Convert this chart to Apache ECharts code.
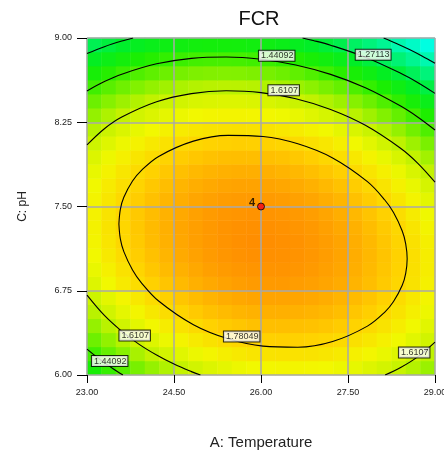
<!DOCTYPE html>
<html><head><meta charset="utf-8">
<script src="https://cdn.jsdelivr.net/npm/echarts@6/dist/echarts.min.js"></script>
<style>html,body{margin:0;padding:0;background:#fff}#chart{width:444px;height:450px}</style>
</head><body><div id="chart"></div>
<script>
const chartTitle = 'FCR';
const xAxisName = 'A: Temperature';
const yAxisName = 'C: pH';
const xTickLabels = ['23.00', '24.50', '26.00', '27.50', '29.00'];
const yTickLabels = ['6.00', '6.75', '7.50', '8.25', '9.00'];

// heatmap cell centres (A: Temperature, C: pH)
const temperatureCells = [23.125,23.375,23.625,23.875,24.125,24.375,24.625,24.875,25.125,25.375,25.625,25.875,26.125,26.375,26.625,26.875,27.125,27.375,27.625,27.875,28.125,28.375,28.625,28.875];
const phCells = [6.0625,6.1875,6.3125,6.4375,6.5625,6.6875,6.8125,6.9375,7.0625,7.1875,7.3125,7.4375,7.5625,7.6875,7.8125,7.9375,8.0625,8.1875,8.3125,8.4375,8.5625,8.6875,8.8125,8.9375];

// FCR values, one row per pH cell (bottom to top)
const fcrGrid = [
[1.385,1.431,1.473,1.512,1.548,1.580,1.608,1.633,1.655,1.672,1.687,1.698,1.705,1.709,1.709,1.706,1.699,1.689,1.675,1.658,1.637,1.613,1.585,1.554],
[1.446,1.491,1.532,1.571,1.605,1.637,1.664,1.688,1.709,1.726,1.740,1.750,1.756,1.759,1.759,1.755,1.747,1.736,1.722,1.704,1.682,1.657,1.629,1.597],
[1.500,1.544,1.585,1.623,1.657,1.687,1.714,1.737,1.757,1.774,1.786,1.796,1.802,1.804,1.803,1.798,1.790,1.778,1.763,1.744,1.722,1.696,1.666,1.634],
[1.548,1.592,1.632,1.669,1.702,1.732,1.758,1.780,1.800,1.815,1.827,1.836,1.841,1.842,1.840,1.835,1.826,1.813,1.797,1.778,1.755,1.728,1.698,1.665],
[1.591,1.634,1.673,1.709,1.741,1.770,1.796,1.817,1.836,1.851,1.862,1.870,1.874,1.875,1.872,1.866,1.856,1.843,1.826,1.806,1.782,1.755,1.724,1.689],
[1.627,1.669,1.708,1.743,1.775,1.803,1.827,1.848,1.866,1.880,1.891,1.898,1.901,1.901,1.898,1.891,1.880,1.866,1.849,1.828,1.803,1.775,1.743,1.708],
[1.657,1.698,1.736,1.771,1.802,1.829,1.853,1.873,1.890,1.903,1.913,1.920,1.922,1.922,1.917,1.910,1.898,1.884,1.865,1.843,1.818,1.789,1.757,1.721],
[1.681,1.722,1.759,1.793,1.823,1.849,1.872,1.892,1.908,1.921,1.930,1.935,1.937,1.936,1.931,1.922,1.910,1.895,1.876,1.853,1.827,1.797,1.764,1.728],
[1.699,1.739,1.775,1.808,1.838,1.864,1.886,1.905,1.920,1.932,1.940,1.945,1.946,1.944,1.938,1.929,1.916,1.900,1.880,1.857,1.830,1.800,1.766,1.728],
[1.711,1.750,1.786,1.818,1.847,1.872,1.893,1.911,1.926,1.937,1.945,1.949,1.949,1.946,1.940,1.930,1.916,1.899,1.878,1.854,1.827,1.796,1.761,1.723],
[1.717,1.755,1.790,1.822,1.850,1.874,1.895,1.912,1.926,1.936,1.943,1.946,1.946,1.942,1.935,1.924,1.910,1.892,1.871,1.846,1.818,1.786,1.750,1.711],
[1.717,1.755,1.789,1.819,1.846,1.870,1.890,1.907,1.920,1.929,1.935,1.938,1.937,1.932,1.924,1.913,1.898,1.879,1.857,1.831,1.802,1.770,1.733,1.694],
[1.711,1.748,1.781,1.811,1.837,1.860,1.879,1.895,1.907,1.916,1.921,1.923,1.921,1.916,1.907,1.895,1.879,1.860,1.837,1.811,1.781,1.748,1.711,1.670],
[1.698,1.735,1.767,1.796,1.822,1.844,1.862,1.878,1.889,1.897,1.902,1.903,1.900,1.894,1.885,1.871,1.855,1.835,1.811,1.784,1.753,1.719,1.682,1.641],
[1.680,1.715,1.747,1.776,1.800,1.822,1.840,1.854,1.865,1.872,1.876,1.876,1.873,1.866,1.856,1.842,1.824,1.804,1.779,1.751,1.720,1.685,1.647,1.605],
[1.656,1.690,1.721,1.749,1.773,1.794,1.811,1.824,1.834,1.841,1.844,1.843,1.839,1.832,1.821,1.806,1.788,1.766,1.741,1.713,1.680,1.645,1.606,1.563],
[1.625,1.659,1.689,1.716,1.740,1.759,1.776,1.788,1.798,1.803,1.806,1.804,1.800,1.791,1.780,1.764,1.745,1.723,1.697,1.668,1.635,1.598,1.559,1.515],
[1.589,1.622,1.651,1.677,1.700,1.719,1.735,1.747,1.755,1.760,1.762,1.760,1.754,1.745,1.732,1.716,1.697,1.674,1.647,1.617,1.583,1.546,1.505,1.461],
[1.546,1.578,1.607,1.633,1.654,1.673,1.687,1.699,1.707,1.711,1.711,1.709,1.702,1.693,1.679,1.662,1.642,1.618,1.591,1.560,1.525,1.488,1.446,1.401],
[1.497,1.529,1.557,1.582,1.603,1.620,1.634,1.645,1.652,1.655,1.655,1.652,1.645,1.634,1.620,1.602,1.581,1.557,1.529,1.497,1.462,1.423,1.381,1.335],
[1.443,1.474,1.501,1.525,1.545,1.562,1.575,1.585,1.591,1.594,1.593,1.589,1.581,1.570,1.555,1.536,1.514,1.489,1.460,1.428,1.392,1.352,1.309,1.263],
[1.382,1.412,1.439,1.462,1.481,1.497,1.510,1.519,1.524,1.526,1.525,1.520,1.511,1.499,1.483,1.464,1.442,1.415,1.386,1.353,1.316,1.276,1.232,1.185],
[1.315,1.344,1.370,1.393,1.411,1.427,1.438,1.447,1.451,1.453,1.450,1.444,1.435,1.422,1.406,1.386,1.363,1.336,1.305,1.271,1.234,1.193,1.149,1.101],
[1.242,1.271,1.296,1.317,1.335,1.350,1.361,1.368,1.372,1.373,1.370,1.363,1.353,1.340,1.322,1.302,1.278,1.250,1.219,1.184,1.146,1.104,1.059,1.010]
];

// contour lines: [Temperature, pH]
const contour1p78049 = [[23.550,7.345],[23.575,7.475],[23.635,7.582],[23.785,7.727],[23.935,7.820],[24.235,7.946],[24.835,8.082],[25.435,8.133],[26.035,8.123],[26.635,8.058],[27.235,7.932],[27.835,7.721],[28.135,7.558],[28.285,7.446],[28.435,7.282],[28.495,7.168],[28.520,7.035],[28.495,6.905],[28.435,6.799],[28.285,6.654],[28.135,6.560],[27.835,6.435],[27.235,6.298],[26.635,6.247],[26.035,6.257],[25.435,6.322],[24.835,6.448],[24.235,6.659],[23.935,6.823],[23.785,6.935],[23.635,7.098],[23.575,7.212],[23.550,7.345]];
const contour1p6107Upper = [[23.0,8.048],[23.3,8.192],[23.6,8.296],[24.2,8.432],[24.8,8.505],[25.4,8.530],[26.0,8.514],[26.6,8.459],[27.2,8.364],[27.8,8.223],[28.4,8.021],[28.7,7.887],[29.0,7.717]];
const contour1p6107LowerLeft = [[23.0,6.711],[23.3,6.530],[23.6,6.389],[23.9,6.273],[24.2,6.178],[24.5,6.097],[24.8,6.030],[24.956,6.0]];
const contour1p6107LowerRight = [[28.140,6.0],[28.4,6.064],[28.7,6.161],[29.0,6.293]];
const contour1p44092Upper = [[23.0,8.529],[23.3,8.612],[23.6,8.678],[24.2,8.770],[24.8,8.819],[25.4,8.831],[26.0,8.811],[26.6,8.760],[27.2,8.676],[27.8,8.557],[28.4,8.396],[28.7,8.297],[29.0,8.181]];
const contour1p44092LowerLeft = [[23.0,6.230],[23.15,6.167],[23.3,6.110],[23.45,6.056],[23.62,6.0]];
const contour1p27113Left = [[23.0,8.862],[23.3,8.923],[23.6,8.973],[23.795,9.0]];
const contour1p27113Right = [[26.716,9.0],[26.9,8.978],[27.2,8.936],[27.8,8.829],[28.4,8.688],[28.7,8.604],[29.0,8.507]];
const contour1p10134 = [[28.114,9.0],[28.325,8.953],[28.55,8.899],[28.775,8.840],[29.0,8.775]];

const contourLabelPoints = [[26.271,8.842],[27.934,8.851],[26.391,8.535],[25.667,6.342],[23.822,6.351],[23.391,6.124],[28.641,6.200]];
const contourLabelTexts = ['1.44092','1.27113','1.6107','1.78049','1.6107','1.44092','1.6107'];

const designPoint = [26.00, 7.50];
const designPointLabel = '4';

const FONT = '"Liberation Sans", Arial, sans-serif';
const heatData = [];
fcrGrid.forEach((row, j) => row.forEach((v, i) => heatData.push([i, j, v])));

const contourSets = [contour1p78049, contour1p6107Upper, contour1p6107LowerLeft, contour1p6107LowerRight,
  contour1p44092Upper, contour1p44092LowerLeft, contour1p27113Left, contour1p27113Right, contour1p10134];

const tickFmt = (labels) => (v) => {
  const hit = labels.find(l => Math.abs(Number(l) - v) < 1e-6);
  return hit === undefined ? '' : hit;
};

const series = [{
  type: 'heatmap', xAxisIndex: 1, yAxisIndex: 1, data: heatData, z: 1,
  itemStyle: { borderWidth: 0 }, emphasis: { disabled: true }, progressive: 0
}];
contourSets.forEach(pts => series.push({
  type: 'line', xAxisIndex: 0, yAxisIndex: 0, data: pts, showSymbol: false, symbol: 'none',
  smooth: 0.35, z: 3, silent: true, clip: true,
  lineStyle: { color: '#000', width: 1.1 }
}));
series.push({
  type: 'scatter', xAxisIndex: 0, yAxisIndex: 0, z: 5, silent: true,
  symbol: 'rect', symbolSize: 1, itemStyle: { color: 'transparent' },
  data: contourLabelPoints.map((p, k) => ({ value: p, name: contourLabelTexts[k] })),
  label: {
    show: true, position: 'inside', formatter: '{b}', fontSize: 9, fontFamily: FONT, color: '#000',
    backgroundColor: '#fff', borderColor: '#000', borderWidth: 1, padding: [1, 1, 0, 2]
  }
});
series.push({
  type: 'scatter', xAxisIndex: 0, yAxisIndex: 0, z: 6, silent: true,
  symbol: 'circle', symbolSize: 7,
  itemStyle: { color: '#ff0000', borderColor: '#000', borderWidth: 1 },
  data: [designPoint],
  label: { show: true, position: 'left', distance: 2, offset: [0, -4], formatter: designPointLabel,
    fontSize: 11, fontWeight: 'bold', fontFamily: FONT, color: '#000' }
});

const chart = echarts.init(document.getElementById('chart'), null, { renderer: 'canvas' });
chart.setOption({
  animation: false,
  backgroundColor: '#fff',
  title: { text: chartTitle, left: 259, top: 9, padding: 0, textAlign: 'center',
    textStyle: { fontSize: 20, fontWeight: 'normal', color: '#111', fontFamily: FONT } },
  grid: { left: 87, top: 38, width: 348, height: 337, containLabel: false, outerBoundsMode: 'none' },
  visualMap: { show: false, type: 'continuous', seriesIndex: 0, dimension: 2, min: 1.0, max: 2.0,
    inRange: { color: ['#00ffe6','#00f8b0','#00f270','#00ee28','#1cee00','#6ef000','#c0f200','#f2f800','#ffd200','#ffa400','#ff7800'] } },
  xAxis: [{
    type: 'value', position: 'bottom', min: 23, max: 29, interval: 1.5, z: 2,
    name: xAxisName, nameLocation: 'middle', nameGap: 60,
    nameTextStyle: { fontSize: 15, color: '#222', fontFamily: FONT },
    axisLine: { show: false },
    axisTick: { show: true, length: 8, lineStyle: { color: '#000', width: 1 } },
    axisLabel: { fontSize: 9, color: '#222', fontFamily: FONT, margin: 13, formatter: tickFmt(xTickLabels) },
    splitLine: { show: true, lineStyle: { color: '#a8a8a8', width: 1.5 } }
  }, {
    type: 'category', position: 'top', show: false, data: temperatureCells.map(String),
    axisLine: { show: false }, axisTick: { show: false }, axisLabel: { show: false }, splitLine: { show: false }
  }],
  yAxis: [{
    type: 'value', position: 'left', min: 6, max: 9, interval: 0.75, z: 2,
    name: yAxisName, nameLocation: 'middle', nameGap: 58,
    nameTextStyle: { fontSize: 12, color: '#222', fontFamily: FONT },
    axisLine: { show: false },
    axisTick: { show: true, length: 10, lineStyle: { color: '#000', width: 1 } },
    axisLabel: { fontSize: 9, color: '#222', fontFamily: FONT, margin: 15, formatter: tickFmt(yTickLabels) },
    splitLine: { show: true, lineStyle: { color: '#a8a8a8', width: 1.5 } }
  }, {
    type: 'category', position: 'right', show: false, data: phCells.map(String),
    axisLine: { show: false }, axisTick: { show: false }, axisLabel: { show: false }, splitLine: { show: false }
  }],
  series: series
});
</script></body></html>
